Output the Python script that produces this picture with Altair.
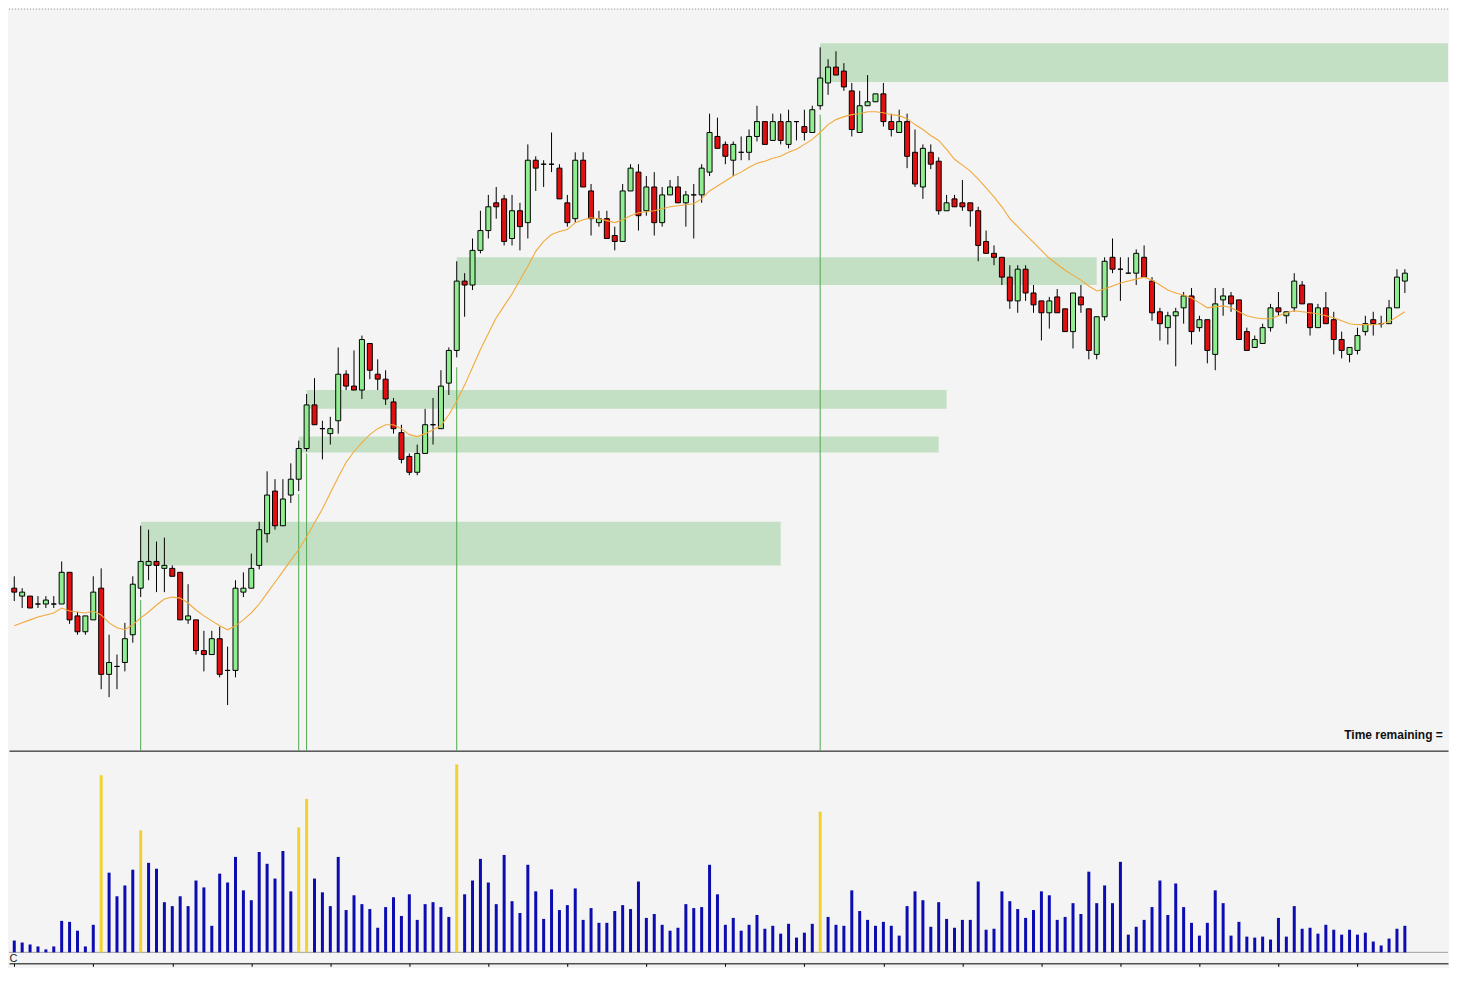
import altair as alt
import pandas as pd

# ---------------- data (price units are arbitrary points) -------------
opens = [167,159,159,151,151,151,151,183,139,123,135,167,80,88,92,120,167,190,194,187,
         187,183,135,135,104,100,116,84,84,163,167,190,222,265,230,261,277,308,352,328,
         323,336,383,371,367,414,383,378,355,324,300,284,303,332,328,374,407,477,473,508,
         528,556,560,520,548,536,599,595,595,591,556,540,599,568,536,540,523,517,568,587,
         548,572,536,564,572,556,564,564,587,623,615,599,607,607,623,638,619,638,615,638,
         633,627,654,677,693,689,669,627,654,658,666,638,627,638,607,572,607,598,548,560,
         556,556,548,517,505,501,481,457,489,465,457,445,461,449,426,461,449,403,441,501,
         489,485,485,501,477,446,430,442,450,462,430,438,403,458,462,458,426,410,414,430,
         450,442,450,473,454,430,450,438,418,403,407,426,438,434,434,450,477]
highs = [179,167,159,159,159,159,194,183,143,139,179,187,120,100,132,179,230,226,214,218,
         190,183,171,135,124,124,128,108,175,183,202,234,285,277,277,293,316,363,379,336,
         340,410,387,407,422,414,398,387,359,332,303,312,348,359,387,410,497,485,520,548,
         564,572,564,564,556,615,603,599,627,595,564,607,607,575,548,548,532,575,595,595,
         583,587,572,579,583,568,575,595,646,642,618,618,623,630,654,638,646,646,650,638,
         650,654,713,701,709,697,677,669,685,666,677,646,650,646,630,615,615,602,564,564,
         579,556,552,528,513,501,493,493,493,473,457,461,469,449,465,473,449,441,501,520,
         501,501,509,513,481,450,446,450,466,470,442,438,470,470,466,458,430,422,434,454,
         466,446,485,477,454,454,466,446,426,410,430,442,446,442,458,489,489]
lows = [154,147,147,147,147,147,151,131,120,120,135,65,57,65,83,112,158,175,163,163,
        179,135,131,100,83,100,77,49,77,158,167,186,213,226,230,253,265,305,332,297,
        312,323,367,367,358,378,367,352,323,293,281,281,303,312,328,362,400,441,468,505,
        520,540,513,513,508,520,568,572,587,560,532,536,572,523,532,520,508,517,568,528,
        543,523,532,564,556,532,520,556,583,611,595,583,599,599,618,615,619,615,611,619,
        619,627,650,665,685,669,623,627,654,658,633,623,627,591,572,560,590,544,548,552,
        548,532,497,505,493,473,449,445,457,445,417,429,445,426,409,445,398,398,437,485,
        457,485,473,481,437,417,413,391,434,413,426,394,387,442,446,418,407,410,414,426,
        442,434,446,454,422,430,434,403,399,395,403,422,422,430,434,450,465]
closes = [163,163,147,151,155,151,183,135,123,139,163,80,92,88,116,171,194,194,190,190,
          179,135,139,104,100,116,80,84,167,167,187,226,261,230,257,277,308,352,332,328,
          328,383,371,367,418,387,378,358,328,297,284,303,332,332,371,407,477,473,508,528,
          552,552,517,548,532,599,591,595,595,560,536,599,572,540,540,520,517,568,591,543,
          572,536,564,572,556,564,564,591,627,611,603,615,607,623,638,615,638,619,638,638,
          627,650,682,693,685,673,630,654,658,666,638,630,638,603,575,611,595,548,556,552,
          552,548,513,505,501,481,457,489,465,453,445,457,445,426,465,453,407,441,497,489,
          489,485,505,481,445,434,442,446,462,426,438,407,454,462,454,418,407,418,430,450,
          446,446,477,454,430,450,434,418,407,410,422,434,434,434,450,481,485]
moving_avg = [129,132,135,138,140,142,147,144,143,142,144,140,132,127,125,130,137,143,150,156,
              158,157,152,145,139,134,129,125,129,135,142,151,162,173,184,195,206,219,233,247,
              263,279,294,305,314,322,328,332,332,328,322,320,323,327,331,342,356,372,390,408,
              424,440,452,464,478,492,507,517,524,527,529,536,539,541,540,538,536,539,543,546,
              547,548,550,552,553,554,555,560,568,573,578,583,587,592,596,598,601,603,607,610,
              615,620,627,635,640,643,645,646,648,648,647,645,644,641,635,630,624,619,610,600,
              594,588,580,571,562,552,540,532,524,516,508,500,494,488,483,478,472,467,469,472,
              475,477,479,481,478,473,468,465,463,460,455,450,451,452,450,446,442,440,439,439,
              442,445,447,446,445,444,442,440,437,434,433,433,433,434,436,441,446]
volumes = [12,10,8,6,3,6,32,31,22,6,28,180,81,57,68,84,124,91,85,51,
           47,57,47,73,66,27,80,71,97,63,53,102,90,75,103,62,127,156,75,61,
           47,97,43,58,49,44,25,46,56,37,59,33,49,51,46,36,191,59,73,95,
           71,49,99,52,40,89,62,34,64,43,48,65,33,45,30,30,42,48,44,72,
           35,39,28,22,25,49,45,46,89,59,28,35,22,28,38,24,27,19,29,15,
           20,29,143,36,28,27,63,42,33,27,31,27,17,47,62,53,26,51,34,25,
           33,33,72,23,24,62,52,44,35,43,62,58,33,36,50,39,82,50,68,50,
           92,18,26,33,46,73,38,70,46,30,17,30,63,50,17,31,16,15,16,13,
           35,16,47,24,25,19,28,23,18,23,18,20,11,7,14,24,27]
signal_bars = [11, 16, 36, 37, 56, 102]          # highlighted (yellow) volume bars
signal_lines = [16, 36, 37, 56, 102]             # bars with a vertical marker line
signal_line_top = [155, 262, 303, 390, 645]
zone_start = [16, 37, 36, 56, 102]
zone_end = [97, 118, 117, 137, 183]
zone_top = [234, 367, 320, 501, 717]
zone_bottom = [190, 348, 304, 473, 678]
tick_values = [0, 10, 20, 30, 40, 50, 60, 70, 80, 90, 100, 110, 120, 130, 140, 150, 160, 170]
price_floor = 3
price_ceiling = 752
vol_ceiling = 204
label_text = ["Time remaining ="]
label_x = [180.8]
label_y = [15]

# ---------------- tables ----------------
n = len(closes)
df = pd.DataFrame({
    "i": list(range(n)),
    "open": opens, "high": highs, "low": lows, "close": closes,
    "ma": moving_avg, "vol": volumes,
})
df["dir"] = ["up" if c >= o else "down" for o, c in zip(opens, closes)]
df["kind"] = ["signal" if k in signal_bars else "normal" for k in range(n)]

zones = pd.DataFrame({"start": zone_start, "end": zone_end, "top": zone_top, "bottom": zone_bottom})
sig = pd.DataFrame({"i": signal_lines, "top": signal_line_top,
                    "bottom": [price_floor] * len(signal_lines)})
lab = pd.DataFrame({"x": label_x, "y": label_y, "t": label_text})
base = pd.DataFrame({"v": [0]})

W = 1441
PH = 743
VH = 201

xs = alt.Scale(domain=[-0.6667, 181.46], nice=False, zero=False, padding=0)
ys = alt.Scale(domain=[price_floor, price_ceiling], nice=False, zero=False, padding=0)
price_axis = alt.Axis(domain=True, domainColor="black", domainWidth=1, ticks=False,
                      labels=False, grid=False, title=None)

def X(field):
    return alt.X(field, type="quantitative", scale=xs, axis=price_axis)

def Y(field):
    return alt.Y(field, type="quantitative", scale=ys, axis=None)

zone_layer = alt.Chart(zones).mark_rect(color="#C4E0C4", clip=True).encode(
    x=X("start"), x2="end", y=Y("top"), y2="bottom")

sig_layer = alt.Chart(sig).mark_rule(color="#4FA84F", strokeWidth=1).encode(
    x=X("i"), y=Y("top"), y2="bottom")

wick_layer = alt.Chart(df).mark_rule(color="black", strokeWidth=1).encode(
    x=X("i"), y=Y("low"), y2="high")

body_layer = alt.Chart(df).mark_bar(size=5, stroke="black", strokeWidth=1).encode(
    x=X("i"), y=Y("open"), y2="close",
    color=alt.Color("dir:N", scale=alt.Scale(domain=["up", "down"], range=["#90EE90", "#E01010"]),
                    legend=None))

ma_layer = alt.Chart(df).mark_line(color="#F2A93B", strokeWidth=1.1).encode(
    x=X("i"), y=Y("ma"))

text_layer = alt.Chart(lab).mark_text(align="right", baseline="alphabetic", font="Liberation Sans",
                                      fontWeight="bold", fontSize=12, color="#111").encode(
    x=X("x"), y=Y("y"), text="t:N")

top_line = alt.Chart(lab).mark_rule(color="#9A9A9A", strokeDash=[1, 2], strokeWidth=1).encode(
    x=alt.value(0), x2=alt.value(W), y=alt.value(0.5))

price = alt.layer(zone_layer, sig_layer, wick_layer, body_layer, ma_layer, text_layer, top_line
                  ).properties(width=W, height=PH)

vol_axis = alt.Axis(values=tick_values, labels=False, ticks=True, tickSize=3, tickColor="black",
                    domain=True, domainColor="black", offset=11, grid=False, title="C",
                    titleX=0, titleY=-5, titleAlign="left", titleBaseline="middle",
                    titleFont="Liberation Sans", titleFontWeight="normal", titleFontSize=11,
                    titleColor="#222")

vscale = alt.Scale(domain=[0, vol_ceiling], nice=False, padding=0)

vol_bars = alt.Chart(df).mark_bar(size=3).encode(
    x=alt.X("i:Q", scale=xs, axis=vol_axis),
    y=alt.Y("vol:Q", scale=vscale, axis=None),
    color=alt.Color("kind:N", scale=alt.Scale(domain=["normal", "signal"], range=["#0C0CB0", "#F2D230"]),
                    legend=None))

vol_base = alt.Chart(base).mark_rule(color="#A0A0A0", strokeWidth=1).encode(
    x=alt.value(0), x2=alt.value(W), y=alt.Y("v:Q", scale=vscale, axis=None))

volume = alt.layer(vol_base, vol_bars).properties(width=W, height=VH)

chart = alt.vconcat(price, volume, spacing=0).resolve_scale(color="independent").properties(
    padding=0, background="#F4F4F4"
).configure_view(stroke=None)

chart.save("out.html", embed_options={"renderer": "svg", "actions": False})
